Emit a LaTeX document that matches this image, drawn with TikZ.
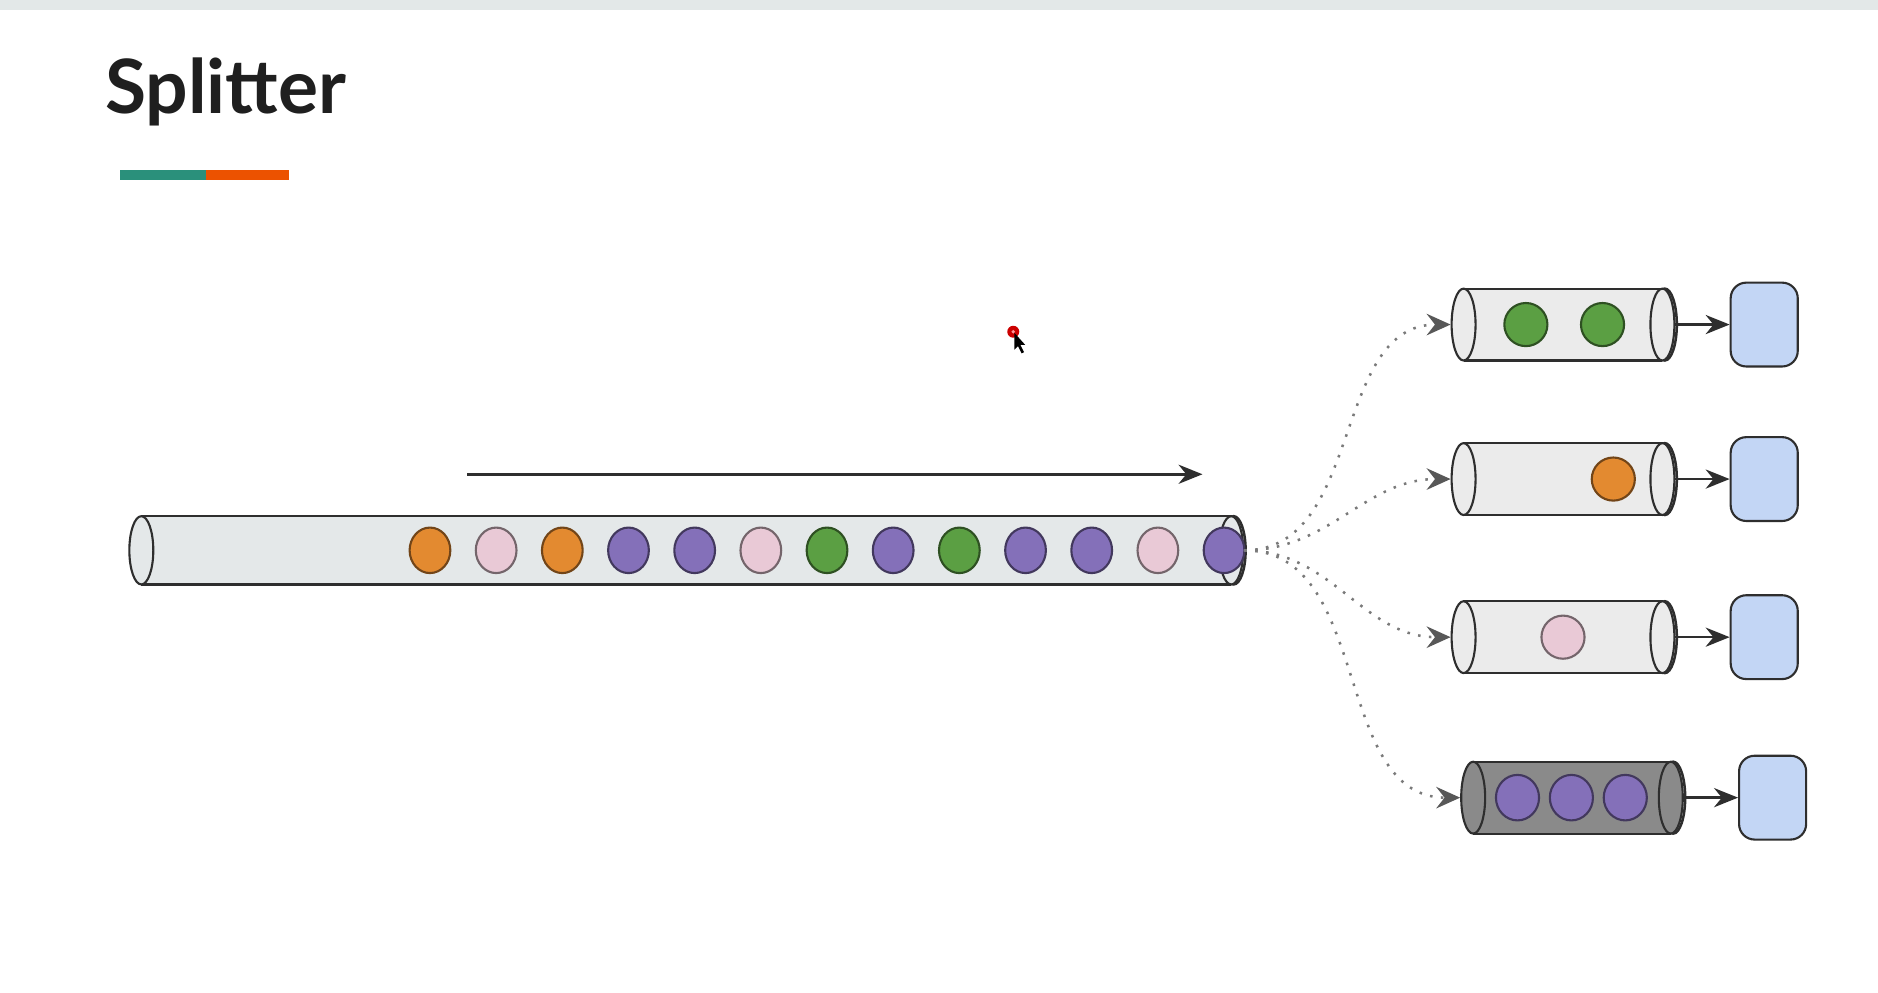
\documentclass[tikz,border=0pt]{standalone}
\usepackage{fontspec}
\setmainfont{Lato}
\usetikzlibrary{shapes.geometric,arrows.meta}

\definecolor{bargrey}{HTML}{E3E8E8}
\definecolor{barteal}{HTML}{2A907B}
\definecolor{barorange}{HTML}{EC5200}
\definecolor{pipegrey}{HTML}{E4E8E9}
\definecolor{qlight}{HTML}{EBEBEB}
\definecolor{qdark}{HTML}{8A8A8A}
\definecolor{morange}{HTML}{E38A30}
\definecolor{mpink}{HTML}{E9C9D6}
\definecolor{mpurple}{HTML}{8470B9}
\definecolor{mgreen}{HTML}{5B9F43}
\definecolor{sinkblue}{HTML}{C3D6F5}
\definecolor{ink}{HTML}{2E2E2E}
\definecolor{dotgrey}{HTML}{7A7A7A}

\tikzset{
  msg/.style={ellipse,draw=#1!50!black,fill=#1,line width=0.5pt,
    minimum width=3.4mm,minimum height=3.8mm,inner sep=0pt},
  qmsg/.style={msg=#1,minimum width=3.6mm,minimum height=3.6mm},
  pipeend/.style={ellipse,draw=ink,fill=#1,line width=0.5pt,
    minimum width=2mm,inner sep=0pt},
  sink/.style={rectangle,rounded corners=1.3mm,draw=ink,fill=sinkblue,
    line width=0.5pt,minimum width=5.6mm,minimum height=7mm},
  flow/.style={dotted,dotgrey,line width=0.6pt,
    -{Stealth[length=2mm,width=1.8mm,inset=0.7mm,color=ink!80]}},
  feed/.style={ink,line width=0.6pt,-{Stealth[length=2mm,width=1.6mm]}},
}

% \pipe{name}{left x}{right x}{y}{half height}{fill}
\newcommand\pipe[6]{%
  \fill[#6] (#2,#4-#5) rectangle (#3,#4+#5);
  \draw[ink,line width=0.5pt] (#2,#4-#5) -- (#3,#4-#5) (#2,#4+#5) -- (#3,#4+#5);
  \node[pipeend=#6,minimum height=#5*0.2mm] (#1-in) at (#2,#4) {};
  \draw[ink,line width=0.6pt] (#3+2,#4) ellipse [x radius=10,y radius=#5];
  \node[pipeend=#6,minimum height=#5*0.2mm] (#1-out) at (#3,#4) {};
}

\begin{document}
\begin{tikzpicture}[x=0.1mm,y=-0.1mm]
  \useasboundingbox (0,0) rectangle (1568,829);
  \fill[white] (0,0) rectangle (1568,829);
  \fill[bargrey] (0,0) rectangle (1568,8);

  \node[anchor=base west,inner sep=0pt,text=black!88,
    font=\bfseries\fontsize{17.8}{20}\selectfont] (title) at (87,95) {Splitter};
  \fill[barteal] (100,142) rectangle (172,150);
  \fill[barorange] (172,142) rectangle (241,150);

  % direction of travel
  \coordinate (dirA) at (390,396);
  \coordinate (dirB) at (1004,396);
  \draw[feed] (dirA) -- (dirB);

  % incoming stream
  \pipe{main}{118}{1028}{459.5}{28.5}{pipegrey}
  \foreach \c [count=\i] in {morange,mpink,morange,mpurple,mpurple,mpink,mgreen,
      mpurple,mgreen,mpurple,mpurple,mpink,mpurple}
    \node[msg=\c] (m\i) at ({359+55.25*(\i-1)},459.5) {};

  % one queue per colour
  \pipe{q1}{1222}{1388}{271}{30}{qlight}
  \pipe{q2}{1222}{1388}{400}{30}{qlight}
  \pipe{q3}{1222}{1388}{532}{30}{qlight}
  \pipe{q4}{1230}{1395}{666}{30}{qdark}

  \node[qmsg=mgreen] (g1) at (1274,271) {};
  \node[qmsg=mgreen] (g2) at (1338,271) {};
  \node[qmsg=morange] (o1) at (1347,400) {};
  \node[qmsg=mpink] (p1) at (1305,532) {};
  \node[qmsg=mpurple,minimum height=3.8mm] (u1) at (1267,666) {};
  \node[qmsg=mpurple,minimum height=3.8mm] (u2) at (1312,666) {};
  \node[qmsg=mpurple,minimum height=3.8mm] (u3) at (1357,666) {};

  % consumers
  \node[sink] (s1) at (1473,271) {};
  \node[sink] (s2) at (1473,400) {};
  \node[sink] (s3) at (1473,532) {};
  \node[sink] (s4) at (1480,666) {};

  \draw[flow] (main-out.east) to[out=0,in=180] (q1-in.west);
  \draw[flow] (main-out.east) to[out=0,in=180] (q2-in.west);
  \draw[flow] (main-out.east) to[out=0,in=180] (q3-in.west);
  \draw[flow] (main-out.east) to[out=0,in=180] (q4-in.west);

  \draw[feed] (q1-out.east) -- (s1.west);
  \draw[feed] (q2-out.east) -- (s2.west);
  \draw[feed] (q3-out.east) -- (s3.west);
  \draw[feed] (q4-out.east) -- (s4.west);

  % mouse pointer
  \fill[red!80!black] (846,277) circle (5);
  \fill[red!40] (846,277) circle (1.5);
  \fill[black] (847,278) -- (847,292) -- (850,289) -- (853,295) -- (855,294)
    -- (852,288) -- (856,288) -- cycle;
\end{tikzpicture}
\end{document}
